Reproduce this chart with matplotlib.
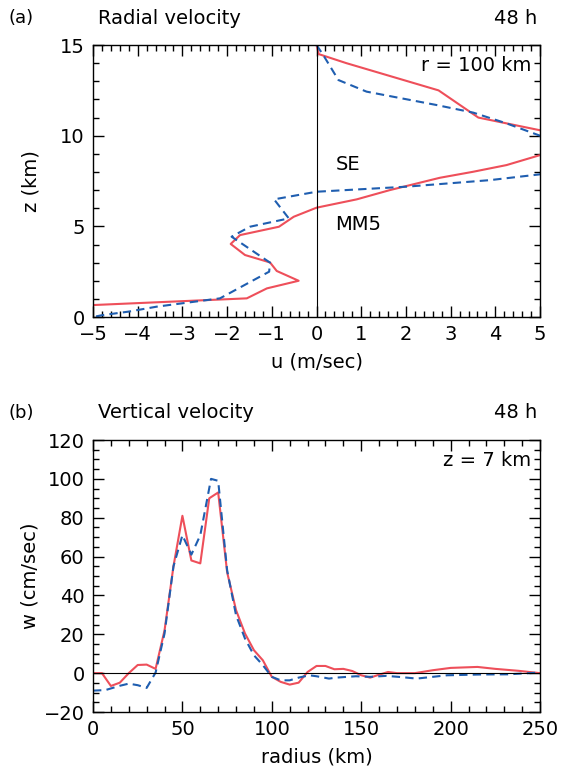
import matplotlib
matplotlib.use("Agg")
import matplotlib.pyplot as plt
from matplotlib.ticker import MultipleLocator

# panel (a): radial velocity profiles at r = 100 km
u_mm5 = [0.0, 0.05, 0.67, 2.73, 3.62, 5.0, 5.6, 5.0, 4.25, 3.5, 2.76, 1.64, 0.90, 0.0,
         -0.51, -0.84, -1.71, -1.92, -1.60, -1.04, -0.89, -0.40, -1.11, -1.56, -5.0, -5.6]
z_mm5 = [15.0, 14.5, 14.0, 12.5, 11.0, 10.3, 9.6, 8.93, 8.38, 8.01, 7.68, 7.0, 6.49, 6.03,
         5.53, 4.98, 4.52, 4.03, 3.42, 3.01, 2.54, 2.0, 1.58, 1.03, 0.66, 0.63]
u_se = [0.0, 0.15, 0.49, 1.12, 2.69, 3.51, 4.25, 5.0, 5.6, 5.0, 3.88, 2.02, 0.0,
        -0.95, -0.62, -1.49, -1.90, -1.04, -1.06, -2.16, -3.58, -4.2, -4.8, -5.0]
z_se = [15.0, 14.45, 13.07, 12.43, 11.69, 11.27, 10.68, 10.0, 9.0, 7.87, 7.55, 7.19, 6.91,
        6.49, 5.44, 4.98, 4.43, 3.0, 2.5, 1.03, 0.57, 0.3, 0.1, 0.0]

# panel (b): vertical velocity at z = 7 km
r_mm5 = [0, 5, 10, 15, 20, 25, 30, 35, 40, 45, 50, 55, 60, 65, 70, 75, 80, 85, 90, 95,
         100, 105, 110, 115, 120, 125, 130, 135, 140, 145, 150, 155, 160, 165, 170, 180,
         190, 200, 215, 225, 238, 250]
w_mm5 = [0, 0, -6.6, -4.9, 0, 4.2, 4.4, 2.2, 22, 55, 81, 58, 56.5, 90, 93, 52, 32.4, 20.4,
         11.8, 6.6, -1.9, -4.5, -5.9, -4.9, 0.6, 3.7, 3.7, 2.0, 2.2, 1.1, -1.1, -2.3, -0.8,
         0.6, 0.0, 0.0, 1.5, 2.7, 3.2, 2.2, 1.2, 0.0]
r_se = [0, 7, 15, 20, 25, 30, 35, 40, 45, 50, 55, 60, 66, 70, 75, 80, 85, 90, 95, 100,
        105, 110, 115, 121, 125, 132, 136, 147, 155, 164, 172, 181, 190, 198, 216, 232, 250]
w_se = [-9, -8.7, -6.5, -5.4, -6.2, -7.6, 0.3, 20.4, 55, 71, 61, 71, 100, 99, 53, 29.8,
        17.8, 9.2, 4.1, -1.9, -3.7, -3.7, -2.3, -1.1, -1.6, -2.8, -2.3, -1.6, -1.9, -1.4,
        -2.0, -2.8, -1.9, -1.1, -0.7, -0.6, 0.3]

red = "#ee4f5a"
blue = "#1f5eb0"
fs = 14

plt.rcParams['font.family'] = ['DejaVu Sans']
fig = plt.figure(figsize=(5.62, 7.74), dpi=100)


def style(ax):
    ax.tick_params(which='both', direction='in', top=True, right=True, labelsize=fs, width=1)
    ax.tick_params(which='major', length=8, pad=6)
    ax.tick_params(which='minor', length=4)
    for s in ax.spines.values():
        s.set_linewidth(1.0)


ax1 = fig.add_axes([0.1655, 0.5904, 0.7954, 0.3514])
ax1.plot(u_mm5, z_mm5, color=red, lw=1.5)
ax1.plot(u_se, z_se, color=blue, lw=1.5, ls=(0, (4, 2.5)))
ax1.axvline(0, color='black', lw=0.8)
ax1.set_xlim(-5, 5)
ax1.set_ylim(0, 15)
ax1.xaxis.set_major_locator(MultipleLocator(1))
ax1.xaxis.set_minor_locator(MultipleLocator(0.2))
ax1.yaxis.set_major_locator(MultipleLocator(5))
ax1.yaxis.set_minor_locator(MultipleLocator(1))
style(ax1)
ax1.set_xlabel("u (m/sec)", fontsize=fs, labelpad=6)
ax1.set_ylabel("z (km)", fontsize=fs, labelpad=14)
ax1.text(0.42, 8.4, "SE", fontsize=fs, va='center')
ax1.text(0.42, 5.1, "MM5", fontsize=fs, va='center')
ax1.text(0.98, 0.925, "r = 100 km", fontsize=fs, ha='right', va='center', transform=ax1.transAxes)
fig.text(8 / 562, 1 - 18 / 774, "(a)", fontsize=13, va='center')
fig.text(98 / 562, 1 - 18 / 774, "Radial velocity", fontsize=fs, va='center')
fig.text(537 / 562, 1 - 18 / 774, "48 h", fontsize=fs, va='center', ha='right')

ax2 = fig.add_axes([0.1655, 0.0801, 0.7954, 0.3514])
ax2.plot(r_mm5, w_mm5, color=red, lw=1.5)
ax2.plot(r_se, w_se, color=blue, lw=1.5, ls=(0, (4, 2.5)))
ax2.axhline(0, color='black', lw=0.8)
ax2.set_xlim(0, 250)
ax2.set_ylim(-20, 120)
ax2.xaxis.set_major_locator(MultipleLocator(50))
ax2.xaxis.set_minor_locator(MultipleLocator(10))
ax2.yaxis.set_major_locator(MultipleLocator(20))
ax2.yaxis.set_minor_locator(MultipleLocator(5))
style(ax2)
ax2.set_xlabel("radius (km)", fontsize=fs, labelpad=6)
ax2.set_ylabel("w (cm/sec)", fontsize=fs, labelpad=3)
ax2.text(0.98, 0.925, "z = 7 km", fontsize=fs, ha='right', va='center', transform=ax2.transAxes)
fig.text(8 / 562, 1 - 413 / 774, "(b)", fontsize=13, va='center')
fig.text(98 / 562, 1 - 413 / 774, "Vertical velocity", fontsize=fs, va='center')
fig.text(537 / 562, 1 - 413 / 774, "48 h", fontsize=fs, va='center', ha='right')

fig.savefig("out.png", dpi=100)
